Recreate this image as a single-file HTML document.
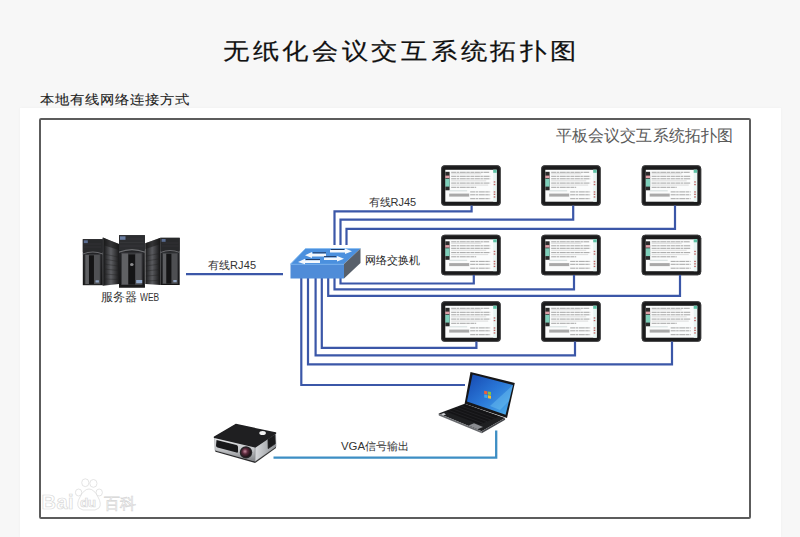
<!DOCTYPE html>
<html><head><meta charset="utf-8">
<style>
html,body{margin:0;padding:0;}
body{width:800px;height:537px;overflow:hidden;background:#f7f7f7;position:relative;font-family:"Liberation Sans",sans-serif;}
.t{position:absolute;white-space:nowrap;line-height:1;transform-origin:0 0;}
#panel{position:absolute;left:20px;top:108px;width:761px;height:429px;background:#fff;box-shadow:0 0 3px rgba(0,0,0,0.035);}
#frame{position:absolute;left:39px;top:118px;width:708px;height:397px;border:2px solid #5c5c5c;border-radius:2px;}
svg{position:absolute;left:0;top:0;}
</style></head>
<body>
<div class="t" id="title" style="left:222.5px;top:40px;font-size:24px;letter-spacing:2.75px;color:#111;-webkit-text-stroke:0.2px #111;transform:scale(1.11,0.97);">无纸化会议交互系统拓扑图</div>
<div class="t" id="sub" style="left:40px;top:93px;font-size:14px;letter-spacing:0.3px;color:#222;-webkit-text-stroke:0.1px #222;transform:scale(1.05,0.95);">本地有线网络连接方式</div>
<div id="panel"></div>
<div id="frame"></div>
<div class="t" style="left:556px;top:128px;font-size:15.5px;letter-spacing:0.1px;color:#5a5a5a;">平板会议交互系统拓扑图</div>
<svg width="800" height="537" viewBox="0 0 800 537">
<defs>
  <linearGradient id="sideL" x1="0" y1="0" x2="1" y2="0">
    <stop offset="0" stop-color="#101011"/><stop offset="0.5" stop-color="#5e5f63"/><stop offset="1" stop-color="#1a1a1b"/>
  </linearGradient>
  <linearGradient id="sideR" x1="0" y1="0" x2="1" y2="0">
    <stop offset="0" stop-color="#1a1a1b"/><stop offset="0.45" stop-color="#5a5b5f"/><stop offset="1" stop-color="#111112"/>
  </linearGradient>
  <linearGradient id="front" x1="0" y1="0" x2="0" y2="1">
    <stop offset="0" stop-color="#2a2b2e"/><stop offset="1" stop-color="#151516"/>
  </linearGradient>
  <linearGradient id="bezel" x1="0" y1="0" x2="1" y2="0">
    <stop offset="0" stop-color="#3c3d40"/><stop offset="0.5" stop-color="#707174"/><stop offset="1" stop-color="#3a3b3e"/>
  </linearGradient>
  <linearGradient id="scr" x1="0" y1="0" x2="1" y2="1">
    <stop offset="0" stop-color="#1648b0"/><stop offset="0.5" stop-color="#2a78d8"/><stop offset="1" stop-color="#4fb0ea"/>
  </linearGradient>
  <linearGradient id="silver" x1="0" y1="0" x2="0" y2="1">
    <stop offset="0" stop-color="#e6e7e9"/><stop offset="0.5" stop-color="#c4c6c9"/><stop offset="1" stop-color="#7c7e82"/>
  </linearGradient>
  <linearGradient id="silverR" x1="0" y1="0" x2="1" y2="0">
    <stop offset="0" stop-color="#d8dadd"/><stop offset="1" stop-color="#8d9094"/>
  </linearGradient>
  <radialGradient id="lens" cx="0.4" cy="0.4" r="0.6">
    <stop offset="0" stop-color="#c78aa0"/><stop offset="0.45" stop-color="#5a2a3c"/><stop offset="1" stop-color="#1a1014"/>
  </radialGradient>
  <g id="tab">
    <rect x="0" y="0" width="59.5" height="40.5" rx="3.5" fill="#1b1b1c"/>
    <rect x="0.4" y="0.4" width="58.7" height="39.7" rx="3.3" fill="none" stroke="#4a4a4c" stroke-width="0.7"/>
    <rect x="4.1" y="4.5" width="51.4" height="31.9" fill="#fbfcfc"/>
    <rect x="52" y="4.5" width="3.5" height="31.9" fill="#e8f5f3"/>
    <rect x="4.1" y="6.5" width="4.3" height="18.5" fill="#2b2b2b"/>
    <rect x="4.1" y="10.3" width="4.3" height="2.5" fill="#dfa0a8"/>
    <rect x="4.1" y="13.5" width="4.3" height="7.8" fill="#7fd0bb"/>
    <rect x="52" y="4.5" width="3.5" height="3" fill="#5cc2a6"/>
    <g stroke="#9c9c9c" stroke-width="0.9" stroke-dasharray="5 0.5 2.5 0.6 6 0.5 3.5 0.6 4 0.5">
      <line x1="10" y1="7" x2="48" y2="7"/>
      <line x1="10" y1="11" x2="49" y2="11"/>
      <line x1="10" y1="13.5" x2="49" y2="13.5"/>
      <line x1="10" y1="17.8" x2="49" y2="17.8"/>
      <line x1="10" y1="22" x2="35" y2="22"/>
      <line x1="29" y1="26.6" x2="49" y2="26.6"/>
      <line x1="29" y1="29.5" x2="49" y2="29.5"/>
      <line x1="29" y1="33.4" x2="49" y2="33.4"/>
    </g>
    <g stroke="#c4c4c4" stroke-width="0.6">
      <line x1="10" y1="8.5" x2="40" y2="8.5"/>
      <line x1="10" y1="15.5" x2="45" y2="15.5"/>
      <line x1="10" y1="19.8" x2="47" y2="19.8"/>
    </g>
    <rect x="8" y="28.3" width="20" height="3" fill="#a9a9a9"/>
    <line x1="8" y1="25.5" x2="26" y2="25.5" stroke="#c8d4d4" stroke-width="0.8"/>
    <g fill="#c46464">
      <rect x="52.5" y="16" width="1.6" height="1.3"/>
      <rect x="52.5" y="18.6" width="1.6" height="1.3"/>
      <rect x="52.5" y="26" width="1.6" height="1.3"/>
      <rect x="52.5" y="28.4" width="1.6" height="1.3"/>
      <rect x="52.5" y="31" width="1.6" height="1.3"/>
    </g>
  </g>
</defs>

<!-- tablets -->
<use href="#tab" x="441.2" y="165.3"/>
<use href="#tab" x="541.2" y="165.3"/>
<use href="#tab" x="641.7" y="165.3"/>
<use href="#tab" x="441.2" y="234.8"/>
<use href="#tab" x="541.2" y="234.8"/>
<use href="#tab" x="641.7" y="234.8"/>
<use href="#tab" x="441.2" y="301.3"/>
<use href="#tab" x="541.2" y="301.3"/>
<use href="#tab" x="641.7" y="301.3"/>

<!-- network lines -->
<g fill="none" stroke="#3b57a8" stroke-width="2.2" stroke-linejoin="miter" stroke-linecap="butt">
  <polyline points="186,274.2 283,274.2"/>
  <polyline points="334.5,245 334.5,211.4 471.6,211.4 471.6,205.5"/>
  <polyline points="340.5,245 340.5,219.6 573.2,219.6 573.2,205.5"/>
  <polyline points="346.5,245 346.5,228.9 675,228.9 675,205.5"/>
  <polyline points="340.5,278 340.5,283.5 473.8,283.5 473.8,275"/>
  <polyline points="334.5,278 334.5,289.3 574,289.3 574,275"/>
  <polyline points="328.2,278 328.2,295.8 680,295.8 680,275"/>
  <polyline points="321.8,278 321.8,347.9 476.4,347.9 476.4,341.5"/>
  <polyline points="315.6,278 315.6,355.3 575,355.3 575,341.5"/>
  <polyline points="308,278 308,364.3 672,364.3 672,341.5"/>
  <polyline points="301.3,278 301.3,385 465,385"/>
</g>
<polyline points="273.5,457.6 496.2,457.6 496.2,430.5" fill="none" stroke="#3d8ec4" stroke-width="2.3"/>

<!-- switch -->
<g>
  <polygon points="290.5,264 344,264 360.5,248.5 305.5,248.5" fill="#4b90de"/>
  <polyline points="290.5,264 305.5,248.5 360.5,248.5" fill="none" stroke="#8cc0f0" stroke-width="0.9"/>
  <polygon points="344,264 360.5,248.5 360.5,263 344,278.5" fill="#58606b"/>
  <rect x="290.5" y="264" width="53.5" height="14.5" fill="#4f8cd8"/>
  <line x1="290.5" y1="264.3" x2="344" y2="264.3" stroke="#86bdf2" stroke-width="0.8"/>
  <g fill="#f4f8fc">
    <polygon points="305,255.3 312,252 312,253.6 326,253.6 326,256.4 312,256.4 312,258"/>
    <polygon points="352,251.2 345,248.6 345,250 330,250 330,252.6 345,252.6 345,254"/>
    <polygon points="298,262 305,258.7 305,260.3 320,260.3 320,263 305,263 305,264.3"/>
    <polygon points="344,258.7 337,256 337,257.4 324,257.4 324,260 337,260 337,261.4"/>
  </g>
  <g stroke="#1f3a66" stroke-width="1">
    <line x1="313" y1="252.8" x2="326" y2="252.8"/>
    <line x1="331" y1="249.5" x2="344" y2="249.5"/>
    <line x1="306" y1="259.5" x2="320" y2="259.5"/>
    <line x1="324" y1="256.6" x2="336" y2="256.6"/>
  </g>
</g>

<!-- servers -->
<g>
  <!-- left server side -->
  <polygon points="102.8,237.6 119,244 119,284 102.8,285.8" fill="url(#sideL)"/>
  <polygon points="102.8,237.6 119,244 119,250 102.8,245" fill="#1a1a1b" opacity="0.6"/>
  <g stroke="#222" stroke-width="0.7" opacity="0.55">
    <line x1="103.5" y1="254" x2="118.5" y2="257"/><line x1="103.5" y1="259" x2="118.5" y2="261.5"/>
    <line x1="103.5" y1="264" x2="118.5" y2="266"/><line x1="103.5" y1="269" x2="118.5" y2="270.5"/>
    <line x1="103.5" y1="274" x2="118.5" y2="275"/><line x1="103.5" y1="279" x2="118.5" y2="279.5"/>
  </g>
  <line x1="102.9" y1="238" x2="102.9" y2="285.5" stroke="#6d6e71" stroke-width="0.7"/>
  <!-- left server front -->
  <rect x="82.8" y="239.2" width="20" height="46" fill="url(#front)"/>
  <rect x="82.8" y="239.2" width="20" height="13" fill="#28292b"/>
  <g stroke="#3a3b3e" stroke-width="0.5"><line x1="84" y1="244" x2="101" y2="244"/><line x1="84" y1="247" x2="101" y2="247"/></g>
  <rect x="83.8" y="240.3" width="4" height="2.8" fill="#5a6d92"/>
  <path d="M82.8 253.5 Q92.8 249.5 102.8 253.5 L102.8 254.5 Q92.8 250.5 82.8 254.5Z" fill="#6a6b6e"/>
  <rect x="84.6" y="254" width="16" height="30.5" fill="#37383b"/>
  <rect x="85.4" y="255" width="3.5" height="29" fill="#5f6063"/>
  <rect x="94" y="255" width="5.8" height="29" fill="#505154"/>
  <rect x="89" y="255.5" width="4.9" height="28.5" fill="#141415"/>
  <rect x="95.5" y="280.3" width="3.4" height="2.2" fill="#8ea2c0"/>

  <!-- right server side -->
  <polygon points="145.3,243.2 160.6,237.8 160.6,285 145.3,284" fill="url(#sideR)"/>
  <polygon points="145.3,243.2 160.6,237.8 160.6,244 145.3,249" fill="#1a1a1b" opacity="0.6"/>
  <g stroke="#222" stroke-width="0.7" opacity="0.55">
    <line x1="145.8" y1="256" x2="160" y2="253.5"/><line x1="145.8" y1="261" x2="160" y2="258.8"/>
    <line x1="145.8" y1="266" x2="160" y2="264"/><line x1="145.8" y1="271" x2="160" y2="269.5"/>
    <line x1="145.8" y1="276" x2="160" y2="275"/><line x1="145.8" y1="281" x2="160" y2="280.3"/>
  </g>
  <line x1="160.5" y1="238" x2="160.5" y2="285" stroke="#5d5e61" stroke-width="0.7"/>
  <!-- right server front -->
  <rect x="160.6" y="237.8" width="19.1" height="47.2" fill="url(#front)"/>
  <rect x="160.6" y="237.8" width="19.1" height="13" fill="#28292b"/>
  <g stroke="#3a3b3e" stroke-width="0.5"><line x1="162" y1="243" x2="178.5" y2="243"/><line x1="162" y1="246" x2="178.5" y2="246"/></g>
  <rect x="161.6" y="239" width="4" height="2.8" fill="#5a6d92"/>
  <path d="M160.6 252 Q170 248 179.7 252 L179.7 253 Q170 249 160.6 253Z" fill="#6a6b6e"/>
  <rect x="162.3" y="252.5" width="15.8" height="31.5" fill="#37383b"/>
  <rect x="163" y="253.5" width="3.3" height="30" fill="#5d5e61"/>
  <rect x="171.4" y="253.5" width="5.8" height="30" fill="#4e4f52"/>
  <rect x="166.4" y="254" width="4.9" height="29.5" fill="#141415"/>
  <rect x="173.3" y="280" width="3.4" height="2.2" fill="#8ea2c0"/>

  <!-- center server -->
  <rect x="119" y="235.2" width="25.9" height="52.3" fill="url(#front)"/>
  <rect x="119" y="235.2" width="25.9" height="15" fill="#2c2d30"/>
  <g stroke="#3d3e41" stroke-width="0.5"><line x1="127" y1="239" x2="143.5" y2="239"/><line x1="120" y1="242.5" x2="143.5" y2="242.5"/><line x1="120" y1="246" x2="143.5" y2="246"/></g>
  <rect x="120" y="236.3" width="5.5" height="3.5" fill="#6a7ea2"/>
  <path d="M119 251.5 Q132 246.5 144.9 251.5 L144.9 252.8 Q132 247.8 119 252.8Z" fill="#6c6d70"/>
  <rect x="121" y="252.5" width="21.5" height="32.5" fill="#3a3b3e"/>
  <rect x="122" y="253.5" width="6" height="31" fill="#606164"/>
  <rect x="135.5" y="253.5" width="6" height="31" fill="#525356"/>
  <rect x="128.5" y="254.5" width="6.5" height="30" fill="#141415"/>
  <ellipse cx="131.8" cy="264.5" rx="1.8" ry="1.6" fill="#8a8a8c"/>
  <rect x="136.2" y="280" width="6" height="3.2" fill="#8fa6c8"/>
  <rect x="119" y="285.5" width="25.9" height="2" fill="#1c1c1d"/>
</g>

<!-- laptop -->
<g>
  <polygon points="438.6,413.6 464.6,403.8 505,418 481.6,431.2" fill="#1e1f21"/>
  <polygon points="438.6,413.6 481.6,431.2 481.8,433.2 438.8,415.4" fill="#6a6c70"/>
  <polygon points="481.6,431.2 505,418 505.2,419.8 481.8,433.2" fill="#46484c"/>
  <polygon points="446,411.5 465,404.5 499,416.5 480,424.5" fill="#141416"/>
  <g stroke="#2c2d30" stroke-width="0.5">
    <line x1="449" y1="410.5" x2="483" y2="423.3"/>
    <line x1="453" y1="409" x2="487" y2="421.6"/>
    <line x1="457" y1="407.5" x2="491" y2="420"/>
    <line x1="461" y1="406" x2="495" y2="418.3"/>
  </g>
  <polygon points="468.5,425.5 474,423.3 483,427 477.5,429.2" fill="#8a8c90"/>
  <polygon points="441,414 444,413 446,414.5 443,415.5" fill="#d0d2d6"/>
  <polygon points="470.5,371.9 514.8,383 507,418.1 464.6,403.8" fill="#161618"/>
  <polygon points="472.6,374.6 513,385 505.6,414.8 467,401.5" fill="url(#scr)"/>
  <polygon points="490,406 513,385 509,401 500,410" fill="#7fd0f5" opacity="0.35"/>
  <g transform="translate(487.6,394.8) skewY(10)">
    <rect x="-3.4" y="-3.4" width="3.1" height="3.1" fill="#f0603a"/>
    <rect x="0.3" y="-3.4" width="3.1" height="3.1" fill="#84c441"/>
    <rect x="-3.4" y="0.3" width="3.1" height="3.1" fill="#3aa8ea"/>
    <rect x="0.3" y="0.3" width="3.1" height="3.1" fill="#f9c02a"/>
  </g>
</g>

<!-- projector -->
<g stroke-linejoin="round">
  <polygon points="214.5,437.1 255.2,446.8 255.2,461.6 215,450.5" fill="url(#silver)" stroke="#9a9ca0" stroke-width="0.6"/>
  <polygon points="255.2,446.8 275.5,433 276,446.8 255.2,461.6" fill="url(#silverR)" stroke="#8a8c90" stroke-width="0.6"/>
  <polygon points="214.5,437.1 235.8,424.6 275.5,433 255.2,446.8" fill="#1f1f21" stroke="#1f1f21" stroke-width="1.6"/>
  <path d="M216.5 440 L236.5 445 Q238 445.5 238 447 L238 451.5 Q238 453 236.5 452.6 L217.5 447.5 Q216 447 216 445.5Z" fill="#18181a"/>
  <polygon points="268,439.2 274.8,435 275.2,443.8 268.2,448.6" fill="#1a1a1c" stroke="#1a1a1c" stroke-width="0.8"/>
  <polygon points="215,450.5 255.2,461.6 255.2,463 215.5,451.8" fill="#2a2a2c"/>
  <polygon points="255.2,461.6 276,446.8 276,448 255.2,463" fill="#333"/>
  <circle cx="246" cy="452.4" r="6.2" fill="#242426"/>
  <circle cx="246" cy="452.4" r="4.9" fill="url(#lens)"/>
  <ellipse cx="262.6" cy="433" rx="3.3" ry="2.1" fill="#f2f2f2"/>
</g>

<!-- watermark -->
<g fill="#ffffff" stroke="#d8d8d8" stroke-width="0.7" font-family="Liberation Sans" font-weight="bold">
  <text x="41.5" y="509" font-size="20" letter-spacing="0.5">Bai</text>
  <ellipse cx="85.3" cy="482.7" rx="3.6" ry="3.9"/><ellipse cx="93.4" cy="483.4" rx="3.6" ry="3.9"/>
  <ellipse cx="78.6" cy="492.5" rx="3.2" ry="3.5"/><ellipse cx="99.2" cy="492.5" rx="3.2" ry="3.5"/>
  <path d="M89 489 Q94 489 98 497 Q102 504 99 508 Q96 511 89 510 Q82 511 79 508 Q76 504 80 497 Q84 489 89 489Z"/>
  <text x="80" y="506.5" font-size="13.5" letter-spacing="-0.5">du</text>
</g>
<g fill="#ffffff" stroke="#d4d4d4" stroke-width="0.6">
  <text x="103.5" y="508.5" font-size="16" font-family="Liberation Sans" letter-spacing="0.5">百科</text>
</g>
</svg>

<div class="t" style="left:368.5px;top:196.5px;font-size:11px;color:#333;letter-spacing:0px;">有线RJ45</div>
<div class="t" style="left:207.5px;top:259.5px;font-size:11px;color:#333;letter-spacing:0.2px;">有线RJ45</div>
<div class="t" style="left:364.5px;top:254.5px;font-size:11.3px;color:#222;">网络交换机</div>
<div class="t" style="left:101px;top:292px;font-size:11.5px;color:#333;">服务器 <span style="display:inline-block;font-size:10.5px;transform:scaleX(0.8);transform-origin:0 0;">WEB</span></div>
<div class="t" style="left:341px;top:440.5px;font-size:11.4px;color:#333;">VGA信号输出</div>
</body></html>
